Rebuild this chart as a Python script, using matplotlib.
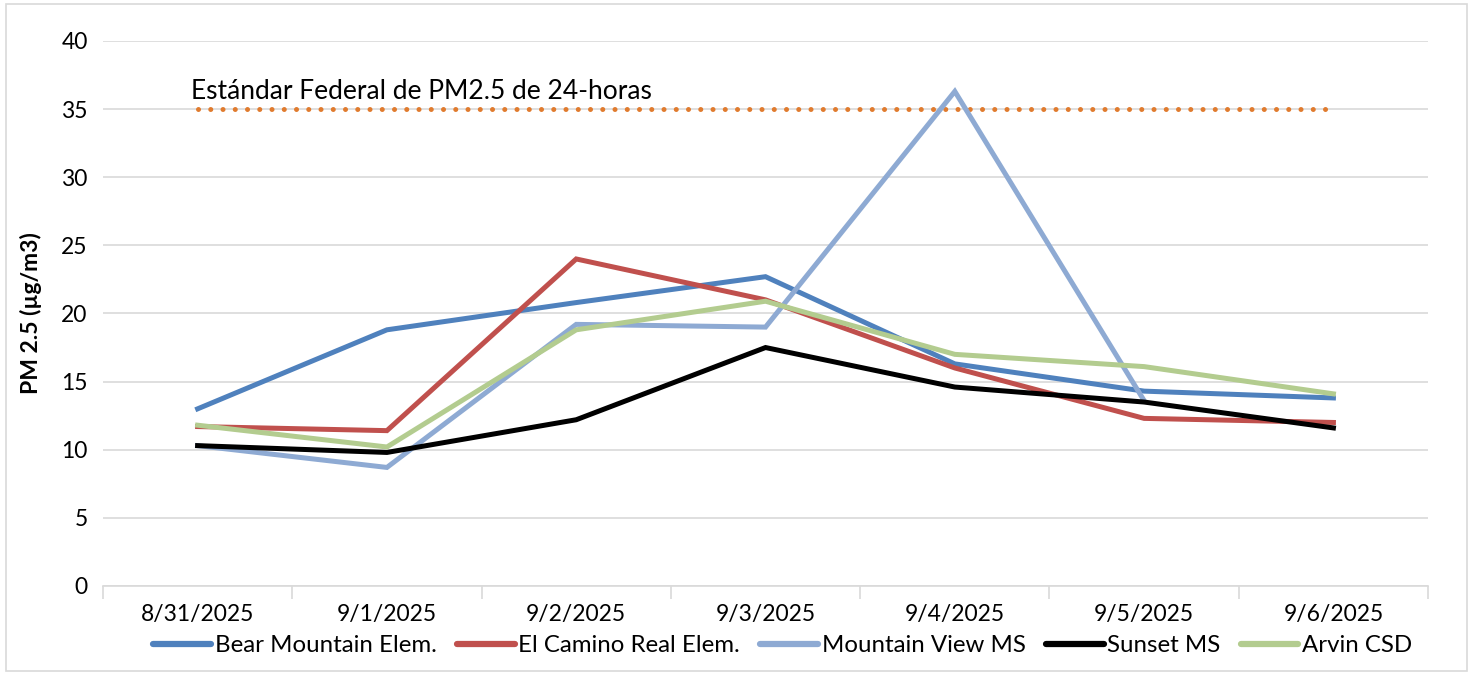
import numpy as np
import matplotlib.pyplot as plt

dates = ['8/31/2025', '9/1/2025', '9/2/2025', '9/3/2025', '9/4/2025', '9/5/2025', '9/6/2025']
bear_mountain = [13.0, 18.8, 20.8, 22.7, 16.3, 14.3, 13.8]
el_camino = [11.7, 11.4, 24.0, 21.0, 16.0, 12.3, 12.0]
mountain_view = [10.3, 8.7, 19.2, 19.0, 36.3, 13.6, np.nan]
sunset = [10.3, 9.8, 12.2, 17.5, 14.6, 13.5, 11.6]
arvin = [11.8, 10.2, 18.8, 20.9, 17.0, 16.1, 14.1]
standard = 35
standard_label = 'Estándar Federal de PM2.5 de 24-horas'

plt.rcParams['font.family'] = ['Lato', 'DejaVu Sans']

fig = plt.figure(figsize=(14.73, 6.75), dpi=100)
ax = fig.add_axes([0.0699, 0.1319, 0.8996, 0.8074])

x = np.arange(len(dates))
series = [
    ('Bear Mountain Elem.', bear_mountain, '#4f81bd'),
    ('El Camino Real Elem.', el_camino, '#c0504d'),
    ('Mountain View MS', mountain_view, '#8eaad3'),
    ('Sunset MS', sunset, '#000000'),
    ('Arvin CSD', arvin, '#b3cc8f'),
]
for name, vals, col in series:
    ax.plot(x, vals, color=col, lw=3.6, label=name, solid_joinstyle='miter', zorder=3)

# federal standard line (round dots)
ax.plot(x, [standard] * len(x), color='#e07b2e', lw=3.6, linestyle=(0, (0.01, 2.44)),
        dash_capstyle='round', zorder=2)
ax.text(x[0] - 0.035, standard + 0.75, standard_label, fontsize=19, va='baseline', ha='left')

ax.set_xlim(-0.5, len(x) - 0.5)
ax.set_ylim(0, 40)
ax.set_yticks(range(0, 41, 5))
ax.yaxis.grid(True, color='#d9d9d9', lw=1.2)
ax.set_axisbelow(True)
ax.tick_params(axis='y', length=0, labelsize=16.5, pad=11)

ax.set_xticks(x)
ax.set_xticklabels(dates, fontsize=16.5)
ax.set_xticks(np.arange(-0.5, len(x), 1), minor=True)
ax.tick_params(axis='x', which='major', length=0, pad=13)
ax.tick_params(axis='x', which='minor', length=9, color='#d9d9d9', width=1.2)

for s in ['top', 'right', 'left']:
    ax.spines[s].set_visible(False)
ax.spines['bottom'].set_color('#d9d9d9')
ax.spines['bottom'].set_linewidth(1.2)

ax.set_ylabel('PM 2.5 (µg/m3)', fontsize=16.5, fontweight='bold')
ax.yaxis.set_label_coords(-0.046, 0.5)

leg = ax.legend(loc='center', bbox_to_anchor=(0.513, -0.11), ncol=5, frameon=False,
                fontsize=17.3, handlelength=2.4, handletextpad=0.15, columnspacing=0.85,
                borderaxespad=0)
for h in leg.get_lines():
    h.set_linewidth(4.5)
    h.set_solid_capstyle('round')

fig.patches.append(plt.Rectangle((0.004, 0.006), 0.992, 0.988, transform=fig.transFigure,
                                 fill=False, edgecolor='#d9d9d9', lw=1.2))

fig.savefig('out.png', dpi=100)
